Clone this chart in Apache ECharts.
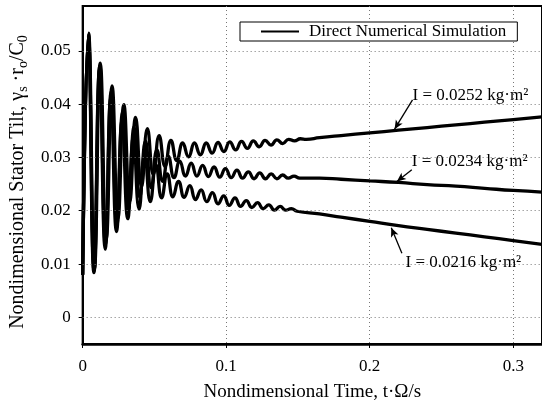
<!DOCTYPE html>
<html>
<head>
<meta charset="utf-8">
<script src="https://cdn.jsdelivr.net/npm/echarts@6/dist/echarts.min.js"></script>
<style>html,body{margin:0;padding:0;background:#fff}#c{width:542px;height:417px}</style>
</head>
<body>
<div id="c"></div>
<script>
const SERIES_NAME = 'Direct Numerical Simulation';
const xTicks = [0, 0.1, 0.2, 0.3];
const yTicks = [0, 0.01, 0.02, 0.03, 0.04, 0.05];

// I = 0.0252 kg·m² (upper curve)
const upperCurve = [[0,0.008],[0.0041,0.0533],[0.0082,0.0092],[0.0123,0.0477],[0.0164,0.0145],[0.0205,0.0434],[0.0246,0.0186],[0.0287,0.0399],[0.0328,0.0218],[0.0369,0.0375],[0.041,0.0245],[0.0451,0.0354],[0.0492,0.0268],[0.0533,0.0341],[0.0574,0.0283],[0.0615,0.0332],[0.0656,0.0294],[0.0697,0.0327],[0.0738,0.0301],[0.0779,0.0327],[0.082,0.0305],[0.0861,0.0327],[0.0902,0.0308],[0.0943,0.0328],[0.0984,0.0311],[0.1025,0.0329],[0.1066,0.0314],[0.1107,0.033],[0.1148,0.0317],[0.1189,0.0331],[0.123,0.032],[0.1271,0.0332],[0.1312,0.0323],[0.1353,0.0333],[0.1394,0.0326],[0.1435,0.0334],[0.1476,0.0331],[0.1517,0.0335],[0.1558,0.0334],[0.165,0.0337],[0.18,0.0341],[0.2,0.0346],[0.22,0.0351],[0.24,0.0356],[0.26,0.0361],[0.28,0.0366],[0.3,0.0371],[0.32,0.0376]];

// I = 0.0234 kg·m² (middle curve)
const middleCurve = [[0,0.008],[0.00398,0.0531],[0.00796,0.0088],[0.01194,0.0471],[0.01592,0.0137],[0.0199,0.0424],[0.02388,0.0174],[0.02786,0.0385],[0.03184,0.0202],[0.03582,0.0357],[0.0398,0.0225],[0.04378,0.0331],[0.04776,0.0243],[0.05174,0.0314],[0.05572,0.0255],[0.0597,0.0302],[0.06368,0.0262],[0.06766,0.0293],[0.07164,0.0265],[0.07562,0.0289],[0.0796,0.0265],[0.08358,0.0285],[0.08756,0.0264],[0.09154,0.0282],[0.09552,0.0263],[0.0995,0.0279],[0.10348,0.0262],[0.10746,0.0276],[0.11144,0.0261],[0.11542,0.0273],[0.1194,0.026],[0.12338,0.0271],[0.12736,0.026],[0.13134,0.0269],[0.13532,0.026],[0.1393,0.0267],[0.14328,0.0261],[0.14726,0.0265],[0.15124,0.0261],[0.165,0.0261],[0.18,0.0259],[0.2,0.0256],[0.22,0.0253],[0.24,0.0249],[0.26,0.0246],[0.28,0.0242],[0.3,0.0238],[0.32,0.0235]];

// I = 0.0216 kg·m² (lower curve)
const lowerCurve = [[0,0.008],[0.00393,0.0529],[0.00786,0.0084],[0.01179,0.0465],[0.01572,0.0128],[0.01965,0.0413],[0.02358,0.0161],[0.02751,0.037],[0.03144,0.0185],[0.03537,0.0338],[0.0393,0.0203],[0.04323,0.0307],[0.04716,0.0217],[0.05109,0.0286],[0.05502,0.0224],[0.05895,0.0269],[0.06288,0.0226],[0.06681,0.0255],[0.07074,0.0225],[0.07467,0.0247],[0.0786,0.0221],[0.08253,0.0239],[0.08646,0.0217],[0.09039,0.0234],[0.09432,0.0213],[0.09825,0.0228],[0.10218,0.021],[0.10611,0.0224],[0.11004,0.0208],[0.11397,0.0219],[0.1179,0.0206],[0.12183,0.0215],[0.12576,0.0204],[0.12969,0.0211],[0.13362,0.0201],[0.13755,0.0208],[0.14148,0.0201],[0.14541,0.0204],[0.14934,0.0199],[0.165,0.0194],[0.18,0.0188],[0.2,0.018],[0.22,0.0172],[0.24,0.0165],[0.26,0.0158],[0.28,0.0151],[0.3,0.0144],[0.32,0.0137]];

const annotationTexts = ['I = 0.0252 kg·m²', 'I = 0.0234 kg·m²', 'I = 0.0216 kg·m²'];
// label anchor (data coords) and arrow tail -> head (data coords)
const annotationLabelAt = [[0.2298, 0.0417], [0.2293, 0.0292], [0.2249, 0.0102]];
const annotationArrows = [
  [[0.2298, 0.0408], [0.2173, 0.0353]],
  [[0.2293, 0.0277], [0.2189, 0.0255]],
  [[0.2224, 0.0120], [0.2150, 0.0168]]
];

const FONT = '"Liberation Serif", "Times New Roman", serif';
const chart = echarts.init(document.getElementById('c'), null, {renderer: 'canvas'});

const curveStyle = {color: '#000', width: 3.3};
const mkCurve = (data) => ({
  type: 'line', name: SERIES_NAME, data: data, showSymbol: false, symbol: 'none',
  smooth: 0.5, lineStyle: curveStyle, itemStyle: {color: '#000'}, z: 3, animation: false
});

const option = {
  animation: false,
  backgroundColor: '#fff',
  grid: {left: 82, right: -2, top: 6, bottom: 73, show: true, borderColor: '#000', borderWidth: 2, backgroundColor: 'transparent'},
  legend: {
    data: [SERIES_NAME], left: 240, top: 22, backgroundColor: '#fff', borderColor: '#000', borderWidth: 1,
    padding: [1, 11, 1, 21], itemWidth: 38, itemHeight: 2, icon: 'rect', selectedMode: false,
    textStyle: {fontFamily: FONT, fontSize: 17, color: '#000', padding: [0, 0, 0, 5]}, z: 10
  },
  xAxis: {
    type: 'value', min: 0, max: 0.32, interval: 0.1,
    name: 'Nondimensional Time, t·Ω/s', nameLocation: 'middle', nameGap: 39,
    nameTextStyle: {fontFamily: FONT, fontSize: 19, color: '#000'},
    axisLine: {show: true, onZero: false, lineStyle: {color: '#000', width: 2.5}},
    axisTick: {show: true, length: 4, lineStyle: {color: '#000'}},
    axisLabel: {fontFamily: FONT, fontSize: 17, color: '#000', margin: 14,
      formatter: v => (v === 0 ? '0' : v.toFixed(1)), showMaxLabel: false},
    splitLine: {show: true, lineStyle: {color: '#777', type: [1, 3], width: 1}}
  },
  yAxis: {
    type: 'value', min: -0.005, max: 0.0584,
    name: '{r|Nondimensional Stator Tilt, γ}{s|s}{r| ·r}{s|o}{r|/C}{s|0}',
    nameLocation: 'middle', nameGap: 52, nameRotate: 90,
    nameTextStyle: {fontFamily: FONT, fontSize: 20, color: '#000', padding: [0, 14, 0, 0],
      rich: {r: {fontFamily: FONT, fontSize: 20, color: '#000'}, s: {fontFamily: FONT, fontSize: 14, color: '#000', padding: [10, 0, 0, 0]}}},
    axisLine: {show: true, lineStyle: {color: '#000', width: 2}},
    axisTick: {show: true, length: 4, customValues: yTicks, lineStyle: {color: '#000'}},
    axisLabel: {fontFamily: FONT, fontSize: 17, color: '#000', margin: 12, customValues: yTicks,
      formatter: v => (Math.abs(v) < 1e-9 ? '0' : v.toFixed(2))},
    splitLine: {show: false}
  },
  series: [
    {
      type: 'line', name: 'grid', data: [], silent: true, z: 1,
      markLine: {
        silent: true, symbol: ['none', 'none'], animation: false,
        label: {show: false},
        lineStyle: {color: '#777', type: [1, 3], width: 1},
        data: yTicks.map(v => ({yAxis: v}))
      }
    },
    mkCurve(upperCurve),
    mkCurve(middleCurve),
    mkCurve(lowerCurve),
    {
      type: 'line', name: 'annotations', data: [], silent: true, z: 5,
      markLine: {
        silent: true, animation: false, symbol: ['none', 'arrow'], symbolSize: [6, 9],
        label: {show: false},
        lineStyle: {color: '#000', type: 'solid', width: 1.3},
        data: annotationArrows.map(a => [{coord: a[0]}, {coord: a[1]}])
      },
      markPoint: {
        silent: true, animation: false, symbol: 'circle', symbolSize: 0,
        label: {show: true, position: 'right', distance: 0, color: '#000', fontFamily: FONT, fontSize: 17},
        data: annotationTexts.map((t, i) => ({coord: annotationLabelAt[i], value: t, label: {formatter: t}}))
      }
    }
  ]
};
chart.setOption(option);
</script>
</body>
</html>
